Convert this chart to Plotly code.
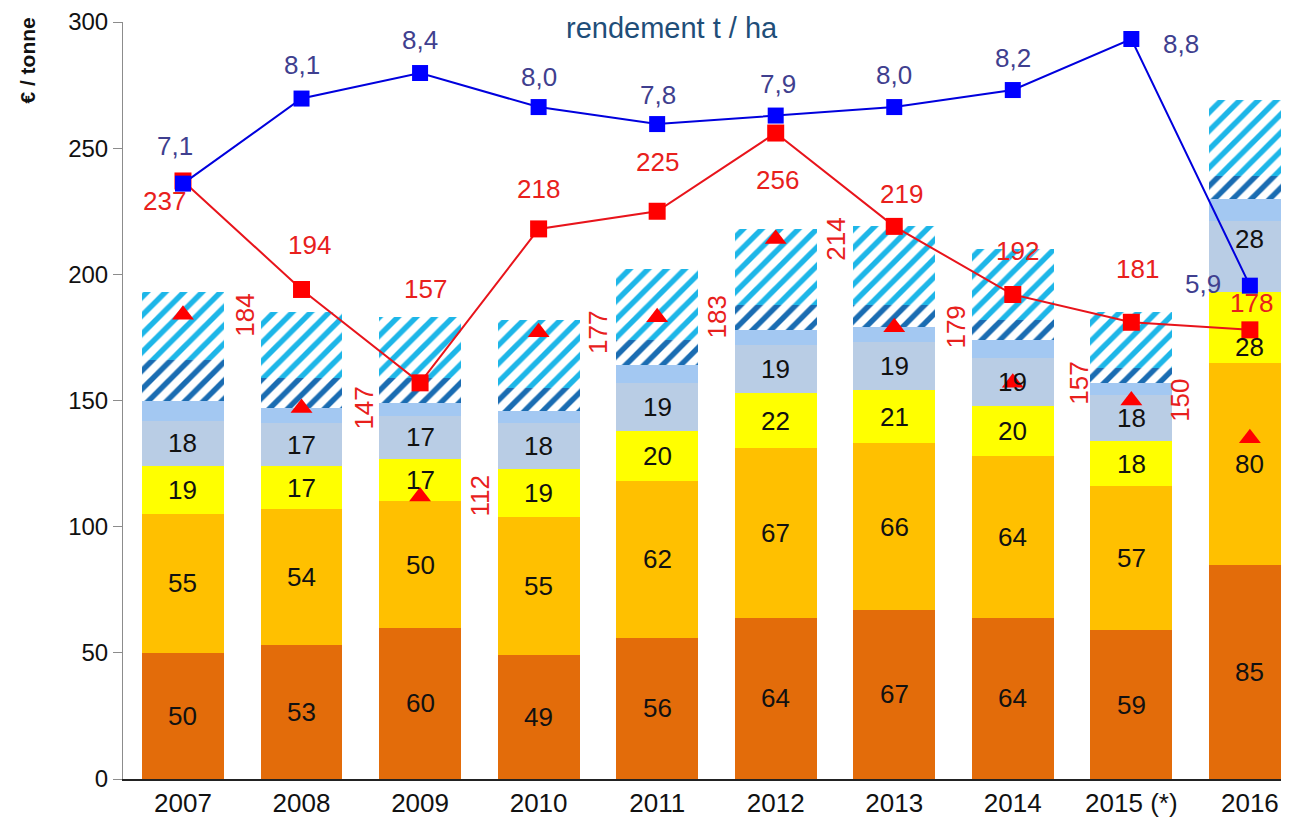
import plotly.graph_objects as go

years = ["2007", "2008", "2009", "2010", "2011", "2012", "2013", "2014", "2015 (*)", "2016"]

# stacked cost components (€ / tonne)
seg_dark_orange = [50, 53, 60, 49, 56, 64, 67, 64, 59, 85]
seg_orange = [55, 54, 50, 55, 62, 67, 66, 64, 57, 80]
seg_yellow = [19, 17, 17, 19, 20, 22, 21, 20, 18, 28]
seg_grey_blue = [18, 17, 17, 18, 19, 19, 19, 19, 18, 28]
seg_band = [8, 6, 5, 5, 7, 6, 6, 7, 5, 9]
seg_hatch_dark = [16, 12, 10, 9, 10, 10, 9, 8, 6, 9]
seg_hatch_light = [27, 26, 24, 27, 28, 30, 31, 28, 22, 30]

triangle_vals = [184, 147, 112, 177, 183, 214, 179, 157, 150, 135]
price_vals = [237, 194, 157, 218, 225, 256, 219, 192, 181, 178]
yield_vals = [7.1, 8.1, 8.4, 8.0, 7.8, 7.9, 8.0, 8.2, 8.8, 5.9]

FONT = "Arial, Liberation Sans, sans-serif"
RED_TXT = "#E8201C"
BLUE_TXT = "#3F3F8F"

# label offsets in pixels (xshift, yshift)
triangle_dx = [62, 63, 60, 60, 60, 60, 62, 66, 48, 62]
price_offsets = [(-18, -20), (8, 44), (5, 94), (0, 40), (0, 49), (2, -47),
                 (7, 32), (5, 44), (6, 53), (2, 27)]
yield_offsets = [(-8, 38), (0, 34), (0, 33), (0, 30), (1, 29), (2, 32),
                 (0, 32), (0, 32), (50, -5), (-47, 2)]
# segment labels nudged away from the line markers: (segment, bar) -> yshift
seg_label_nudge = {(2, 9): -20, (3, 9): 18}

fig = go.Figure()


def add_seg(vals, color, pattern=None):
    marker = dict(color=color, line=dict(width=0))
    if pattern is not None:
        marker["pattern"] = pattern
    fig.add_trace(go.Bar(
        x=years, y=vals, width=0.69, marker=marker,
        hoverinfo="skip", showlegend=False,
    ))


add_seg(seg_dark_orange, "#E36C0A")
add_seg(seg_orange, "#FFC000")
add_seg(seg_yellow, "#FFFF00")
add_seg(seg_grey_blue, "#B9CDE5")
add_seg(seg_band, "#A3C8F2")
add_seg(seg_hatch_dark, "#FFFFFF",
        pattern=dict(shape="/", fgcolor="#1A6CB2", bgcolor="#FFFFFF", fgopacity=1,
                     size=13, solidity=0.42, fillmode="replace"))
add_seg(seg_hatch_light, "#FFFFFF",
        pattern=dict(shape="/", fgcolor="#1DB6E8", bgcolor="#FFFFFF", fgopacity=1,
                     size=13, solidity=0.42, fillmode="replace"))

# red triangles
fig.add_trace(go.Scatter(
    x=years, y=triangle_vals, mode="markers",
    marker=dict(symbol="triangle-up", size=19, color="#FF0000"),
    showlegend=False, hoverinfo="skip",
))

# price line
fig.add_trace(go.Scatter(
    x=years, y=price_vals, mode="lines+markers",
    line=dict(color="#E8141B", width=2),
    marker=dict(symbol="square", size=17, color="#FF0000"),
    showlegend=False, hoverinfo="skip",
))

# yield line (secondary axis)
fig.add_trace(go.Scatter(
    x=years, y=yield_vals, mode="lines+markers", yaxis="y2",
    line=dict(color="#0000DD", width=2),
    marker=dict(symbol="square", size=16, color="#0000FF"),
    showlegend=False, hoverinfo="skip",
))

annotations = []
labelled = [seg_dark_orange, seg_orange, seg_yellow, seg_grey_blue]
for i in range(len(years)):
    base = 0
    for s, seg in enumerate(labelled):
        annotations.append(dict(
            x=i, y=base + seg[i] / 2, xref="x", yref="y", text=str(seg[i]),
            showarrow=False, yshift=seg_label_nudge.get((s, i), 0),
            font=dict(family=FONT, size=26, color="#111111"),
        ))
        base += seg[i]
for i, v in enumerate(triangle_vals):
    annotations.append(dict(
        x=i, y=v, xref="x", yref="y", text=str(v), showarrow=False,
        textangle=-90, xshift=triangle_dx[i], font=dict(family=FONT, size=26, color=RED_TXT),
    ))
for i, v in enumerate(price_vals):
    dx, dy = price_offsets[i]
    annotations.append(dict(
        x=i, y=v, xref="x", yref="y", text=str(v), showarrow=False,
        xshift=dx, yshift=dy, font=dict(family=FONT, size=26, color=RED_TXT),
    ))
for i, v in enumerate(yield_vals):
    dx, dy = yield_offsets[i]
    annotations.append(dict(
        x=i, y=v, xref="x", yref="y2", text=f"{v:.1f}".replace(".", ","),
        showarrow=False, xshift=dx, yshift=dy,
        font=dict(family=FONT, size=26, color=BLUE_TXT),
    ))
annotations.append(dict(
    x=0.471, y=0.992, xref="paper", yref="paper", text="rendement t / ha",
    showarrow=False, xanchor="center", yanchor="middle",
    font=dict(family=FONT, size=29, color="#1F4E79"),
))
annotations.append(dict(
    x=-0.082, y=1.009, xref="paper", yref="paper", text="<b>€ / tonne</b>",
    showarrow=False, textangle=-90, xanchor="center", yanchor="top",
    font=dict(family=FONT, size=21, color="#111111"),
))

# page body adds an 8px margin, so the figure is sized to land on the same pixels
fig.update_layout(
    width=1281, height=813,
    margin=dict(l=115, r=0, t=14, b=42),
    barmode="stack",
    plot_bgcolor="white", paper_bgcolor="white",
    font=dict(family=FONT, size=24, color="#111111"),
    xaxis=dict(
        type="category", range=[-0.506, 9.33],
        showline=True, linecolor="#222222", linewidth=1.5,
        ticks="", tickfont=dict(size=26), showgrid=False,
    ),
    yaxis=dict(
        range=[0, 300], tickvals=[0, 50, 100, 150, 200, 250, 300],
        showline=True, linecolor="#8C8C8C", linewidth=1,
        ticks="outside", ticklen=9, tickcolor="#8C8C8C",
        tickfont=dict(size=24), showgrid=False, zeroline=False,
    ),
    yaxis2=dict(range=[0.1, 9.0], overlaying="y", visible=False),
    annotations=annotations,
)

fig.write_html("out.html")
